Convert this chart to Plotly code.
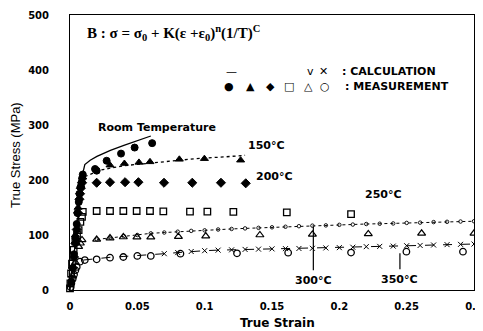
import plotly.graph_objects as go

# ---------------- data ----------------
# Room temperature calculation (solid)
rt_calc_x = [0.0, 0.003, 0.006, 0.008, 0.0095, 0.011, 0.015, 0.02, 0.03, 0.04, 0.05, 0.06]
rt_calc_y = [0, 60, 130, 180, 212, 228, 236, 243, 254, 263, 272, 280]
# Room temperature measurement (filled circles)
rt_meas_x = [0.001, 0.002, 0.003, 0.004, 0.005, 0.0055, 0.0065, 0.007, 0.008, 0.0085, 0.009, 0.0095,
             0.0186, 0.0198, 0.0272, 0.0379, 0.048, 0.061]
rt_meas_y = [15, 40, 65, 95, 120, 140, 160, 175, 188, 195, 203, 210,
             220, 217, 235, 248, 259, 267]

# 150 C calculation (dotted) and measurement (filled triangles)
t150_calc_x = [0.011, 0.0223, 0.04, 0.0594, 0.08, 0.0965, 0.115, 0.13]
t150_calc_y = [206, 218, 226, 231, 236, 239.5, 242, 245]
t150_meas_x = [0.004, 0.006, 0.008, 0.0095, 0.0297, 0.0404, 0.0512, 0.0594, 0.0812, 0.0998, 0.1267]
t150_meas_y = [100, 150, 190, 205, 227, 230, 232, 233, 237.6, 238.8, 236]

# 200 C measurement (filled diamonds)
t200_meas_x = [0.002, 0.003, 0.004, 0.005, 0.006, 0.007, 0.0075, 0.008, 0.009,
               0.0198, 0.0297, 0.0409, 0.0508, 0.0698, 0.0908, 0.1121, 0.1305]
t200_meas_y = [40, 60, 85, 110, 140, 165, 175, 185, 195,
               195, 196, 196, 196, 195, 195, 195, 194]

# 250 C measurement (open squares)
t250_meas_x = [0.0, 0.0003, 0.0008, 0.0015, 0.0022, 0.0027, 0.004, 0.0052, 0.0064, 0.0077, 0.0089, 0.0095,
               0.0198, 0.0297, 0.0396, 0.0495, 0.0594, 0.0693, 0.0891, 0.102, 0.1213, 0.161, 0.2087]
t250_meas_y = [3, 12, 30, 48, 62, 73, 88, 100, 109, 124, 133, 142,
               143.6, 143.6, 143.6, 143.6, 143.6, 143, 142.5, 142.5, 142, 141, 138]

# 300 C calculation (dotted, small markers) and measurement (open triangles)
t300_calc_x = [0.02, 0.03, 0.04, 0.05, 0.06, 0.07, 0.08, 0.09, 0.10, 0.11, 0.12, 0.13, 0.14, 0.15,
               0.16, 0.17, 0.18, 0.19, 0.20, 0.21, 0.22, 0.23, 0.24, 0.25, 0.26, 0.27, 0.28, 0.29, 0.30]
t300_calc_y = [92, 95, 98, 100, 103, 104.5, 106, 107.5, 108.5, 110, 111, 112, 113, 114,
               115, 116, 117, 117.5, 118.5, 119, 120, 120.5, 121, 122, 122.5, 123.5, 124, 124.5, 125]
t300_meas_x = [0.002, 0.004, 0.0064, 0.0077, 0.0089, 0.0198, 0.0297, 0.0396, 0.0497, 0.06,
               0.0805, 0.1008, 0.141, 0.18, 0.2215, 0.2611, 0.30]
t300_meas_y = [25, 50, 79, 85, 91, 92, 94.5, 96.4, 96, 96,
               97, 98, 100, 101, 102, 103, 103]

# 350 C calculation (dashed with x markers) and measurement (open circles)
t350_calc_x = [0.01, 0.02, 0.03, 0.04, 0.05, 0.06, 0.07, 0.08, 0.09, 0.10, 0.11, 0.12, 0.13, 0.14,
               0.15, 0.16, 0.17, 0.18, 0.19, 0.20, 0.21, 0.22, 0.23, 0.24, 0.25, 0.26, 0.27, 0.28, 0.29, 0.30]
t350_calc_y = [54.5, 57.6, 59.5, 61, 62.5, 63.6, 66, 68, 70, 71.5, 72.5, 73, 73.8, 74.3,
               74.8, 75.2, 75.5, 75.8, 76.5, 77, 77.8, 78.8, 79.3, 79.8, 80.5, 81, 81.8, 82.5, 83, 83.6]
t350_calc_mx = [0.07, 0.08, 0.09, 0.10, 0.11, 0.12, 0.13, 0.14, 0.15, 0.16, 0.17, 0.18, 0.19, 0.20,
                0.21, 0.22, 0.23, 0.24, 0.25, 0.26, 0.27, 0.28, 0.29, 0.30]
t350_calc_my = [66, 68, 70, 71.5, 72.5, 73, 73.8, 74.3, 74.8, 75.2, 75.5, 75.8, 76.5, 77,
                77.8, 78.8, 79.3, 79.8, 80.5, 81, 81.8, 82.5, 83, 83.6]
t350_meas_x = [0.0005, 0.001, 0.002, 0.003, 0.004, 0.005, 0.0074, 0.011,
               0.0198, 0.0297, 0.0396, 0.05, 0.06, 0.082, 0.124, 0.162, 0.2087, 0.2498, 0.2918]
t350_meas_y = [5, 12, 20, 28, 36, 42, 51.5, 54.5,
               55.8, 58.8, 60, 62, 62, 66, 66.7, 67.9, 68, 69.7, 69.7]

# text labels (strain, stress)
temp_labels = ["Room Temperature", "150°C", "200°C", "250°C", "300°C", "350°C"]
label_x = [0.0644, 0.146, 0.152, 0.2327, 0.1807, 0.245]
label_y = [296, 262, 206, 173, 17, 19.5]
# pointer lines from the 300 C and 350 C labels up to their curves
pointer_top = [115, 67]
pointer_bottom = [33, 35]

x_ticks = [0, 0.05, 0.1, 0.15, 0.2, 0.25, 0.3]
x_tick_text = ["0", "0.05", "0.1", "0.15", "0.2", "0.25", "0.3"]
y_ticks = [0, 100, 200, 300, 400, 500]

# ---------------- figure ----------------
fig = go.Figure()
K = "black"

def line(x, y, dash, width=1.2):
    fig.add_trace(go.Scatter(x=x, y=y, mode="lines", line=dict(color=K, width=width, dash=dash),
                             showlegend=False, hoverinfo="skip"))

def pts(x, y, symbol, size=7, lw=1):
    fig.add_trace(go.Scatter(x=x, y=y, mode="markers",
                             marker=dict(symbol=symbol, size=size, color=K, line=dict(color=K, width=lw)),
                             showlegend=False, cliponaxis=False, hoverinfo="skip"))

line(rt_calc_x, rt_calc_y, "solid", 1.3)
line(t150_calc_x, t150_calc_y, "dot", 1.3)
fig.add_trace(go.Scatter(x=t300_calc_x, y=t300_calc_y, mode="lines+markers",
                         line=dict(color=K, width=1, dash="dot"),
                         marker=dict(symbol="circle-open", size=3.5, color=K, line=dict(color=K, width=0.9)),
                         showlegend=False, hoverinfo="skip"))
line(t350_calc_x, t350_calc_y, "dash", 1)
pts(t350_calc_mx, t350_calc_my, "x-thin", 5, 1)

pts(rt_meas_x, rt_meas_y, "circle", 7)
pts(t150_meas_x, t150_meas_y, "triangle-up", 7)
pts(t200_meas_x, t200_meas_y, "diamond", 7)
pts(t250_meas_x, t250_meas_y, "square-open", 6.5, 1.3)
pts(t300_meas_x, t300_meas_y, "triangle-up-open", 7, 1.2)
pts(t350_meas_x, t350_meas_y, "circle-open", 6.5, 1.3)

bold = dict(family="DejaVu Sans", size=11, color=K, weight="bold")

for t, x, y in zip(temp_labels, label_x, label_y):
    fig.add_annotation(x=x, y=y, text=t, showarrow=False, font=bold, xref="x", yref="y",
                       xanchor="center", yanchor="middle")

for x, ytop, ybot in zip(label_x[4:], pointer_top, pointer_bottom):
    fig.add_annotation(x=x, y=ytop, ax=x, ay=ybot, axref="x", ayref="y",
                       showarrow=True, arrowhead=0, arrowwidth=1.2, arrowcolor=K, text="")


# helpers: page pixels -> paper fractions (plot area spans x 70..474, y 15..290 on the page)
def lp(px):
    return (px - 70) / 404.0

def tp(py):
    return (290 - py) / 275.0


def note(text, px, py, font, xanchor="center", angle=0):
    fig.add_annotation(xref="paper", yref="paper", x=lp(px), y=tp(py), text=text, showarrow=False,
                       xanchor=xanchor, yanchor="middle", textangle=angle, font=font)


# formula
note("<b>B : σ = σ<sub>0</sub> + K(ε +ε<sub>0</sub>)<sup>n</sup>(1/T)<sup>C</sup></b>", 85, 33,
     dict(family="Liberation Serif", size=15, color=K), xanchor="left")

# custom legend
sym_font = dict(family="DejaVu Sans", size=11, color=K)
for s, px in [("—", 231), ("v", 310), ("✕", 323)]:
    note(s, px, 71.7, sym_font)
for s, px in [("●", 229), ("▲", 250), ("◆", 270), ("□", 289), ("△", 308), ("○", 325)]:
    note(s, px, 86.7, sym_font)
note(": CALCULATION", 340, 71.7, bold, xanchor="left")
note(": MEASUREMENT", 343, 86.7, bold, xanchor="left")

# axis titles
note("True Strain", 277, 323, dict(family="DejaVu Sans", size=12, color=K, weight="bold"))
note("True Stress (MPa)", 16, 155, dict(family="Liberation Sans", size=13, color=K), angle=-90)

# page body has an 8px default margin, so the figure sits at (8, 8); size it to fit the window
fig.update_layout(
    template="none",
    width=475, height=323,
    margin=dict(l=62, r=9, t=7, b=41, autoexpand=False),
    paper_bgcolor="white", plot_bgcolor="white",
    font=dict(family="DejaVu Sans", color=K),
)
fig.update_xaxes(range=[0, 0.3], tickvals=x_ticks, ticktext=x_tick_text, automargin=False,
                 showgrid=False, zeroline=False, showline=True, linecolor=K, linewidth=1.2, mirror=True,
                 ticks="", tickfont=dict(family="DejaVu Sans", size=10, color=K, weight="bold"),
                 ticklabelstandoff=7)
fig.update_yaxes(range=[0, 500], tickvals=y_ticks, automargin=False,
                 showgrid=False, zeroline=False, showline=True, linecolor=K, linewidth=1, mirror=True,
                 ticks="", tickfont=dict(family="DejaVu Sans", size=10, color=K, weight="bold"),
                 ticklabelstandoff=18)

fig.write_html("out.html")
